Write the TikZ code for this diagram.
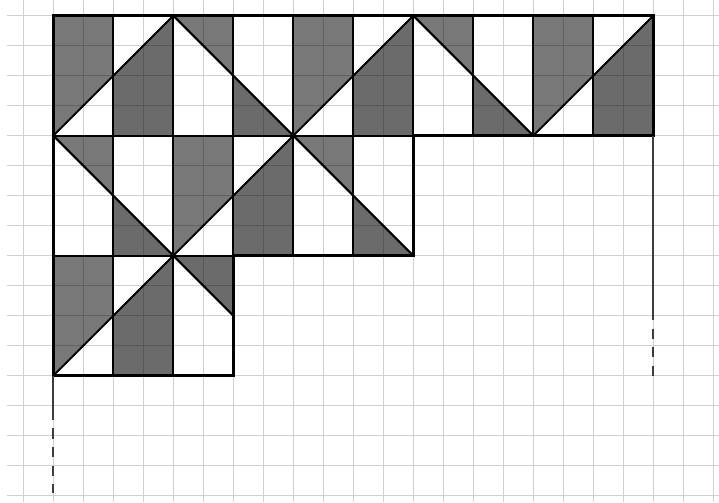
\documentclass[tikz,border=0pt]{standalone}
\usetikzlibrary{calc}
\definecolor{gridgray}{HTML}{D0D0D0}
\definecolor{guide}{HTML}{3C3C3C}

\begin{document}
\begin{tikzpicture}[x=1cm, y=1cm,
  gridline/.style={draw=gridgray, line width=1.4pt},
  lite/.style={fill=black, fill opacity=0.53},
  dark/.style={fill=black, fill opacity=0.58},
  edge/.style={draw=black, line width=1.9pt, line join=round},
  rim/.style={draw=black, line width=2.3pt, line join=miter},
  guideline/.style={draw=guide, line width=2pt},
  guidedash/.style={guideline, dash pattern=on 0.34cm off 0.28cm, dash phase=0.34cm}]

\useasboundingbox (-1.777,0.523) rectangle (22.19,-16.243);

% squared paper
\foreach \i in {-1,...,22} \draw[gridline] (\i,0.523) -- (\i,-16.2);
\foreach \j in {0,...,16} \draw[gridline] (-1.55,-\j) -- (22.19,-\j);

% shading: rising blocks
\foreach \a/\t in {0/0, 8/0, 16/0, 4/-4, 0/-8} {
  \fill[lite] (\a,\t) -- (\a+2,\t) -- (\a+2,\t-2) -- (\a,\t-4) -- cycle;
  \fill[dark] (\a+2,\t-2) -- (\a+4,\t) -- (\a+4,\t-4) -- (\a+2,\t-4) -- cycle;
}
% shading: falling blocks
\foreach \a/\t in {4/0, 12/0, 0/-4, 8/-4} {
  \fill[lite] (\a,\t) -- (\a+2,\t) -- (\a+2,\t-2) -- cycle;
  \fill[dark] (\a+2,\t-2) -- (\a+4,\t-4) -- (\a+2,\t-4) -- cycle;
}
\fill[dark] (4,-8) -- (6,-8) -- (6,-10) -- cycle;

% strips and diagonals
\foreach \x in {2,4,...,18} \draw[edge] (\x,0) -- (\x,-4);
\foreach \x in {2,4,...,10} \draw[edge] (\x,-4) -- (\x,-8);
\foreach \x in {2,4} \draw[edge] (\x,-8) -- (\x,-12);
\draw[edge] (0,-4) -- (12,-4);
\draw[edge] (0,-8) -- (6,-8);
\draw[edge] (0,-4) -- (4,0) -- (8,-4) -- (12,0) -- (16,-4) -- (20,0);
\draw[edge] (0,-4) -- (4,-8) -- (8,-4) -- (12,-8);
\draw[edge] (0,-12) -- (4,-8) -- (6,-10);

% outline
\draw[rim] (0,0) -- (20,0) -- (20,-4) -- (12,-4) -- (12,-8) -- (6,-8)
  -- (6,-12) -- (0,-12) -- cycle;

% guide lines
\coordinate (rtop) at (20,-4);
\coordinate (rmid) at (20,-10.15);
\coordinate (rend) at (20,-12.0);
\coordinate (ltop) at (0,-12);
\coordinate (lmid) at (0,-13.48);
\coordinate (lend) at (0,-15.92);
\draw[guideline] (rtop) -- (rmid);
\draw[guidedash] (rmid) -- (rend);
\draw[guideline] (ltop) -- (lmid);
\draw[guidedash] (lmid) -- (lend);
\end{tikzpicture}
\end{document}
